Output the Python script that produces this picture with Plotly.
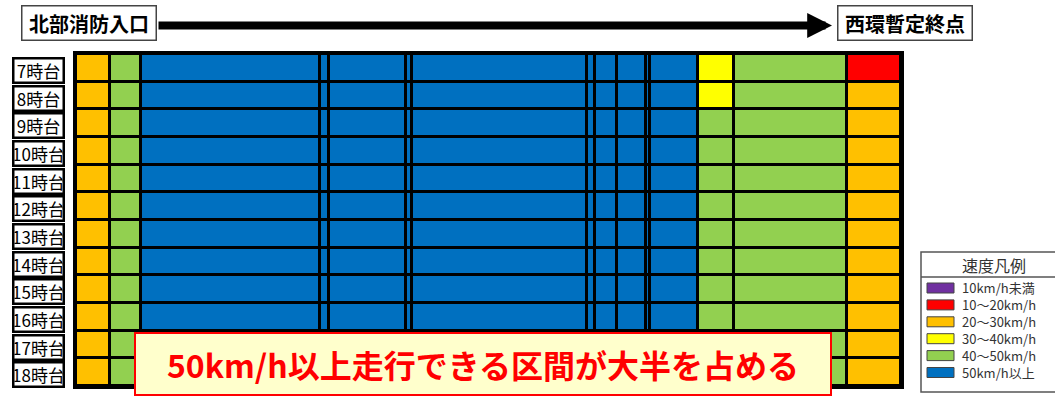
import plotly.graph_objects as go

# 区間の境界（北部消防入口 → 西環暫定終点）
col_edges = [0, 34, 65, 244, 253, 330, 336, 511, 519, 541, 570, 574, 622, 658, 771, 825]
hours = ["7時台", "8時台", "9時台", "10時台", "11時台", "12時台",
         "13時台", "14時台", "15時台", "16時台", "17時台", "18時台"]

# 速度区分 0:10km/h未満 1:10～20 2:20～30 3:30～40 4:40～50 5:50km/h以上
speed = [
    [2, 4, 5, 5, 5, 5, 5, 5, 5, 5, 5, 5, 3, 4, 1],
    [2, 4, 5, 5, 5, 5, 5, 5, 5, 5, 5, 5, 3, 4, 2],
    [2, 4, 5, 5, 5, 5, 5, 5, 5, 5, 5, 5, 4, 4, 2],
    [2, 4, 5, 5, 5, 5, 5, 5, 5, 5, 5, 5, 4, 4, 2],
    [2, 4, 5, 5, 5, 5, 5, 5, 5, 5, 5, 5, 4, 4, 2],
    [2, 4, 5, 5, 5, 5, 5, 5, 5, 5, 5, 5, 4, 4, 2],
    [2, 4, 5, 5, 5, 5, 5, 5, 5, 5, 5, 5, 4, 4, 2],
    [2, 4, 5, 5, 5, 5, 5, 5, 5, 5, 5, 5, 4, 4, 2],
    [2, 4, 5, 5, 5, 5, 5, 5, 5, 5, 5, 5, 4, 4, 2],
    [2, 4, 5, 5, 5, 5, 5, 5, 5, 5, 5, 5, 4, 4, 2],
    [2, 4, 5, 5, 5, 5, 5, 5, 5, 5, 5, 5, 4, 4, 2],
    [2, 4, 5, 5, 5, 5, 5, 5, 5, 5, 5, 5, 4, 4, 2],
]

legend_labels = ["10km/h未満", "10～20km/h", "20～30km/h", "30～40km/h", "40～50km/h", "50km/h以上"]
legend_colors = ["#7030A0", "#FF0000", "#FFC000", "#FFFF00", "#92D050", "#0070C0"]

W, H = 1055, 398
L, R, T, B = 76, 154, 54, 12
PW, PH = W - L - R, H - T - B


def px(x):
    return (x - L) / PW


def py(y):
    return (H - B - y) / PH


n = len(legend_colors)
cscale = []
for i, c in enumerate(legend_colors):
    cscale.append([i / n, c])
    cscale.append([(i + 1) / n, c])

fig = go.Figure(go.Heatmap(
    z=speed, x=col_edges, y=list(range(len(hours) + 1)),
    colorscale=cscale, zmin=-0.5, zmax=n - 0.5,
    showscale=False, xgap=3, ygap=3, hoverinfo="skip",
))

ann = []
shapes = []

# 時間帯ラベル
for i, h in enumerate(hours):
    ann.append(dict(
        x=px(38), y=i + 0.6, xref="paper", yref="y", text=h, showarrow=False,
        xanchor="center", yanchor="middle",
        width=48, height=22, borderwidth=2.5, bordercolor="black", borderpad=0,
        bgcolor="white", font=dict(family="Noto Sans CJK JP", size=17, color="black"),
    ))

# 起点・終点
for name, cx in [("北部消防入口", 88.5), ("西環暫定終点", 905.5)]:
    ann.append(dict(
        x=px(cx), y=py(23.5), xref="paper", yref="paper", text="<b>%s</b>" % name,
        showarrow=False, xanchor="center", yanchor="middle",
        width=133, height=33, borderwidth=1.5, bordercolor="#444",
        borderpad=0, bgcolor="white",
        font=dict(family="Noto Sans CJK JP", size=20, color="black"),
    ))

ann.append(dict(
    x=px(832), y=py(25.5), xref="paper", yref="paper", text="",
    showarrow=True, ax=-(832 - 157), ay=0, arrowhead=2, arrowwidth=8,
    arrowsize=0.62, arrowcolor="black", standoff=0,
))

# コメント枠
ann.append(dict(
    x=px(482.5), y=py(364), xref="paper", yref="paper",
    text="<b>50km/h以上走行できる区間が大半を占める</b>", showarrow=False,
    xanchor="center", yanchor="middle",
    width=694, height=60, borderwidth=2, bordercolor="#FF0000", borderpad=0,
    bgcolor="#FFFFCC", font=dict(family="Noto Sans CJK JP", size=32, color="#FF0000"),
))

# 速度凡例
leg_font = 13
step = leg_font * 1.3
top = 288
shapes.append(dict(type="rect", xref="paper", yref="paper",
                   x0=px(921), x1=px(1068), y0=py(392), y1=py(252),
                   line=dict(color="#555", width=1.5), fillcolor="white", layer="above"))
shapes.append(dict(type="line", xref="paper", yref="paper",
                   x0=px(921), x1=px(1068), y0=py(277), y1=py(277),
                   line=dict(color="#555", width=1.5), layer="above"))
ann.append(dict(x=px(994), y=py(265), xref="paper", yref="paper", text="速度凡例",
                showarrow=False, xanchor="center", yanchor="middle", height=20,
                font=dict(family="Noto Sans CJK JP", size=16, color="#333")))
for i, c in enumerate(legend_colors):
    yc = top + i * step
    shapes.append(dict(type="rect", xref="paper", yref="paper",
                       x0=px(927), x1=px(954), y0=py(yc + 5), y1=py(yc - 5),
                       line=dict(color="#444", width=1), fillcolor=c, layer="above"))
ann.append(dict(x=px(960), y=py(top + (len(legend_labels) - 1) * step / 2),
                xref="paper", yref="paper", text="<br>".join(legend_labels),
                showarrow=False, xanchor="left", yanchor="middle", align="left",
                font=dict(family="Noto Sans CJK JP", size=leg_font, color="#333")))

fig.update_layout(
    width=W, height=H, margin=dict(l=L, r=R, t=T, b=B),
    paper_bgcolor="white", plot_bgcolor="black",
    annotations=ann, shapes=shapes, showlegend=False,
)
fig.update_xaxes(range=[col_edges[0], col_edges[-1]], showticklabels=False, showgrid=False,
                 zeroline=False, showline=True, mirror=True, linewidth=3, linecolor="black")
fig.update_yaxes(range=[len(hours), 0], showticklabels=False, showgrid=False,
                 zeroline=False, showline=True, mirror=True, linewidth=3, linecolor="black")

fig.write_html("out.html", config={"displayModeBar": False},
               post_script="document.body.style.margin='0';")
